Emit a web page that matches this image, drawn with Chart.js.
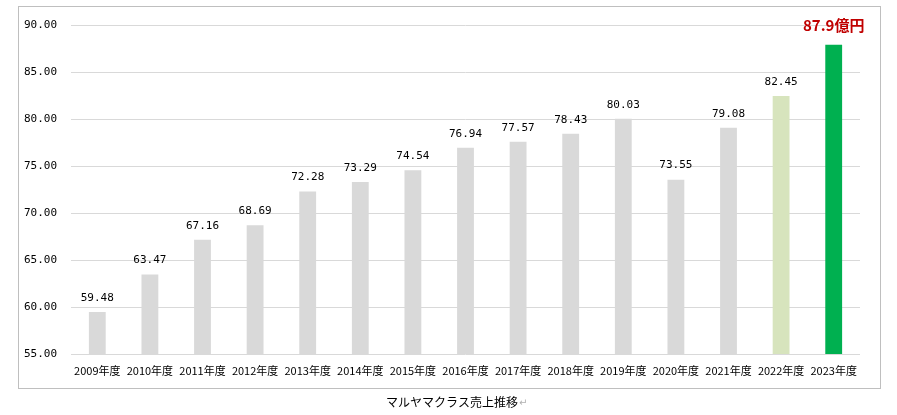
<!DOCTYPE html>
<html><head><meta charset="utf-8">
<script src="https://cdn.jsdelivr.net/npm/chart.js@4/dist/chart.umd.min.js"></script>
<style>html,body{margin:0;padding:0;background:#fff;}#wrap{width:897px;height:415px;position:relative;}</style>
</head><body><div id="wrap"><canvas id="c" width="897" height="415"></canvas></div>
<script>
const categories = ["2009年度","2010年度","2011年度","2012年度","2013年度","2014年度","2015年度","2016年度","2017年度","2018年度","2019年度","2020年度","2021年度","2022年度","2023年度"];
const sales = [59.48,63.47,67.16,68.69,72.28,73.29,74.54,76.94,77.57,78.43,80.03,73.55,79.08,82.45,87.9];
const valueLabels = ["59.48","63.47","67.16","68.69","72.28","73.29","74.54","76.94","77.57","78.43","80.03","73.55","79.08","82.45","87.9億円"];
const barColors = ["#d9d9d9","#d9d9d9","#d9d9d9","#d9d9d9","#d9d9d9","#d9d9d9","#d9d9d9","#d9d9d9","#d9d9d9","#d9d9d9","#d9d9d9","#d9d9d9","#d9d9d9","#d7e4bd","#00b050"];
const caption = "マルヤマクラス売上推移";

const decor = {
  id:'decor',
  beforeDraw(chart){
    const ctx = chart.ctx;
    ctx.save();
    ctx.strokeStyle = '#bfbfbf'; ctx.lineWidth = 1;
    ctx.strokeRect(18.5, 6.5, 862, 382);
    ctx.font = '12px "Noto Sans CJK JP"';
    ctx.textBaseline = 'middle'; ctx.textAlign = 'left';
    const w = ctx.measureText(caption).width;
    const x0 = 452 - w/2;
    ctx.fillStyle = '#000';
    ctx.fillText(caption, x0, 402);
    ctx.fillStyle = '#b0b0b0';
    ctx.font = '10px "DejaVu Sans"';
    ctx.fillText('↵', x0 + w + 1, 403);
    ctx.restore();
  },
  afterDatasetsDraw(chart){
    const ctx = chart.ctx;
    const meta = chart.getDatasetMeta(0);
    ctx.save();
    ctx.textAlign = 'center'; ctx.textBaseline = 'middle';
    meta.data.forEach((bar, i) => {
      const last = i === meta.data.length - 1;
      if (last) {
        ctx.font = 'bold 15px "Noto Sans CJK JP"';
        ctx.fillStyle = '#c00000';
        ctx.fillText(valueLabels[i], bar.x, bar.y - 19);
      } else {
        ctx.font = '11px "DejaVu Sans Mono"';
        ctx.fillStyle = '#000';
        ctx.fillText(valueLabels[i], bar.x, bar.y - 14);
      }
    });
    ctx.restore();
  }
};

new Chart(document.getElementById('c'), {
  type:'bar',
  data:{labels:categories, datasets:[{data:sales, backgroundColor:barColors, borderWidth:0, barPercentage:0.64, categoryPercentage:0.5}]},
  options:{
    responsive:false, animation:false,
    layout:{padding:{top:25,right:37,left:0,bottom:0}},
    plugins:{legend:{display:false}, tooltip:{enabled:false}},
    scales:{
      y:{min:55,max:90,
        ticks:{stepSize:5, padding:14, color:'#000', font:{family:'DejaVu Sans Mono', size:11}, callback:v=>Number(v).toFixed(2)},
        grid:{color:'#d9d9d9', drawTicks:false, tickLength:0},
        border:{display:false},
        afterFit(s){ s.width = 71; }
      },
      x:{
        ticks:{padding:10, color:'#000', maxRotation:0, autoSkip:false, font:{family:'Noto Sans CJK JP', size:11}},
        grid:{display:false, drawTicks:false, tickLength:0},
        border:{display:false},
        afterFit(s){ s.height = 61; }
      }
    }
  },
  plugins:[decor]
});
</script></body></html>
